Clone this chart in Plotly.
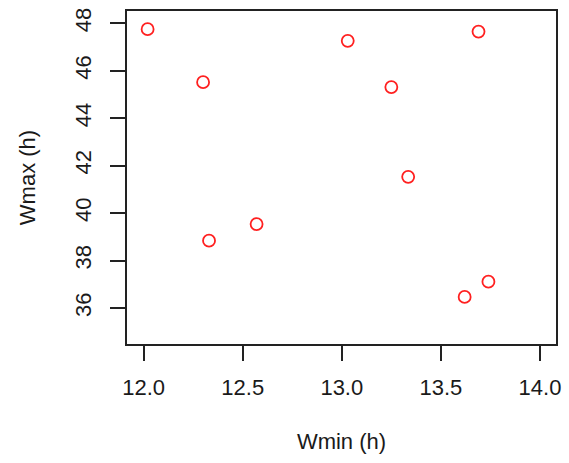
import plotly.graph_objects as go

wmin = [12.02, 12.30, 12.33, 12.57, 13.03, 13.69, 13.25, 13.335, 13.62, 13.74]
wmax = [47.75, 45.52, 38.84, 39.54, 47.26, 47.65, 45.31, 41.53, 36.47, 37.11]

x_ticks = [12.0, 12.5, 13.0, 13.5, 14.0]
x_labels = ["12.0", "12.5", "13.0", "13.5", "14.0"]
y_ticks = [36, 38, 40, 42, 44, 46, 48]
y_labels = ["36", "38", "40", "42", "44", "46", "48"]

font = dict(family="Liberation Sans, Arial, sans-serif", size=22, color="#1a1a1a")

fig = go.Figure(go.Scatter(
    x=wmin, y=wmax, mode="markers",
    marker=dict(symbol="circle-open", size=12, color="#ff2020", line=dict(width=1.8)),
))

axis_common = dict(
    showgrid=False, zeroline=False, showline=True, mirror=True,
    linecolor="#222222", linewidth=1.5,
    ticks="outside", ticklen=15, tickwidth=1.5, tickcolor="#222222",
    tickfont=font,
)

fig.update_layout(
    width=569, height=463,
    margin=dict(l=127, r=13, t=8, b=119),
    paper_bgcolor="white", plot_bgcolor="white",
    showlegend=False,
    font=font,
    xaxis=dict(range=[11.916, 14.081], tickvals=x_ticks, ticktext=x_labels,
               ticklabelstandoff=8,
               title=dict(text="Wmin (h)", font=font, standoff=34), **axis_common),
    yaxis=dict(range=[34.484, 48.518], tickvals=y_ticks, ticktext=y_labels,
               tickangle=-90, ticklabelstandoff=10,
               title=dict(text="Wmax (h)", font=font, standoff=30), **axis_common),
)

fig.write_html("out.html")
